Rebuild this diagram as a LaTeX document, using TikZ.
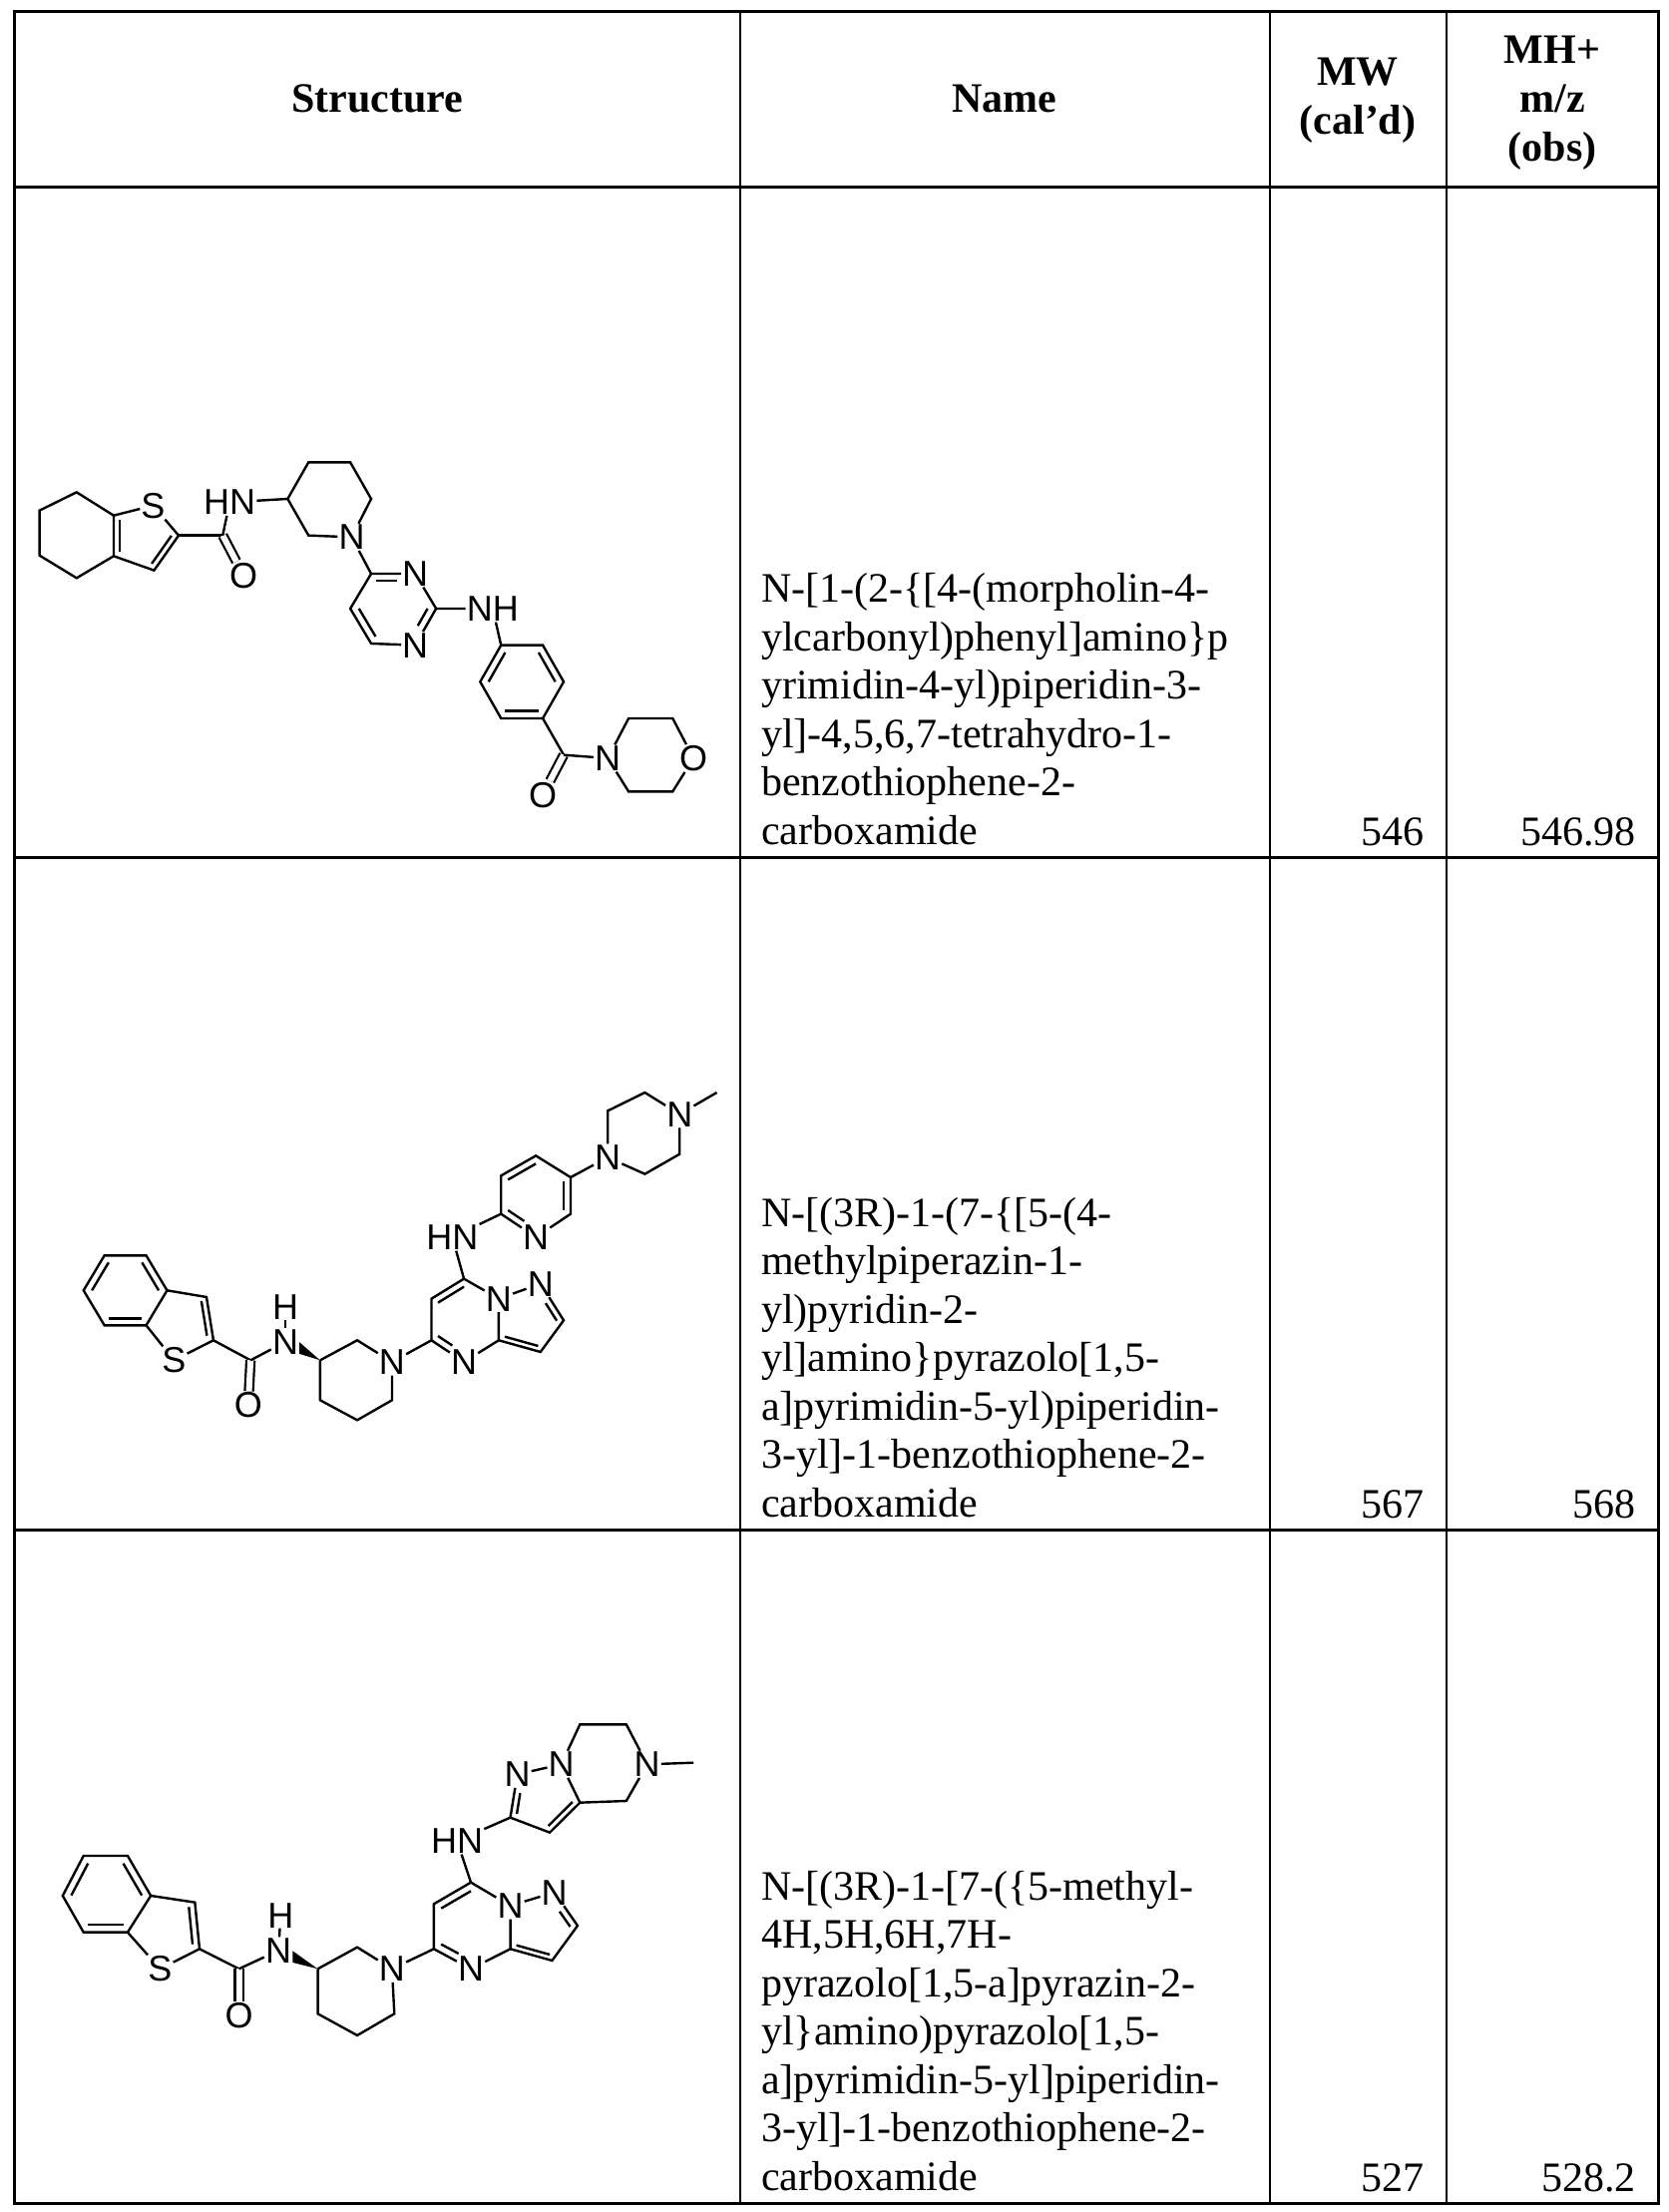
\documentclass[tikz,border=0pt]{standalone}
\usepackage{fontspec}
\setmainfont{Liberation Serif}
\newfontfamily\molf{Liberation Sans}
\usetikzlibrary{calc}
\tikzset{
  atom/.style={font=\molf\fontsize{36}{36}\selectfont, inner sep=1pt},
  bond/.style={line width=2.4pt},
  dbond/.style={double, double distance=6pt, line width=2.2pt},
  rule/.style={line width=3pt},
  vrule/.style={line width=1.6pt},
  nametext/.style={font=\fontsize{42}{48.5}\selectfont, align=left, anchor=south west, inner sep=0pt},
  numtext/.style={font=\fontsize{42}{48}\selectfont, anchor=base east, inner sep=0pt},
  headtext/.style={font=\bfseries\fontsize{42}{49}\selectfont, align=center, inner sep=0pt}
}
\newcommand\dbl[3]{\draw[bond] ($(#1)!0.2!(#3)$) -- ($(#2)!0.2!(#3)$);}
\newcommand\dbls[3]{\draw[bond,shorten >=14pt] ($(#1)!0.2!(#3)$) -- ($(#2)!0.2!(#3)$);}
\begin{document}
\begin{tikzpicture}[x=1pt,y=-1pt]
\useasboundingbox (0,0) rectangle (1673,2217);
% table
\draw[rule] (14,11) rectangle (1662,2208);
\draw[rule] (14,187) -- (1662,187);
\draw[rule] (14,859) -- (1662,859);
\draw[rule] (14,1533) -- (1662,1533);
\draw[vrule] (742,11) -- (742,2208);
\draw[vrule] (1273,11) -- (1273,2208);
\draw[vrule] (1450,11) -- (1450,2208);
% header
\node[headtext] (h1) at (378,99) {Structure};
\node[headtext] (h2) at (1007,99) {Name};
\node[headtext] (h3) at (1361,101) {MW\\(cal'd)};
\node[headtext] (h4) at (1556,103) {MH+\\m/z\\(obs)};
% names
\node[nametext] (n1) at (763,847) {N-[1-(2-\{[4-(morpholin-4-\\ylcarbonyl)phenyl]amino\}p\\yrimidin-4-yl)piperidin-3-\\yl]-4,5,6,7-tetrahydro-1-\\benzothiophene-2-\\carboxamide};
\node[nametext] (n2) at (763,1521) {N-[(3R)-1-(7-\{[5-(4-\\methylpiperazin-1-\\yl)pyridin-2-\\yl]amino\}pyrazolo[1,5-\\a]pyrimidin-5-yl)piperidin-\\3-yl]-1-benzothiophene-2-\\carboxamide};
\node[nametext] (n3) at (763,2196) {N-[(3R)-1-[7-(\{5-methyl-\\4H,5H,6H,7H-\\pyrazolo[1,5-a]pyrazin-2-\\yl\}amino)pyrazolo[1,5-\\a]pyrimidin-5-yl]piperidin-\\3-yl]-1-benzothiophene-2-\\carboxamide};
\node[numtext] (m1) at (1428,847) {546};
\node[numtext] (o1) at (1640,847) {546.98};
\node[numtext] (m2) at (1428,1521) {567};
\node[numtext] (o2) at (1640,1521) {568};
\node[numtext] (m3) at (1428,2196) {527};
\node[numtext] (o3) at (1640,2196) {528.2};

% ---------- structure 1 ----------
\begin{scope}[shift={(14pt,-440pt)},x=0.465pt,y=-0.3333pt]
\coordinate (a1) at (135,160); \coordinate (a2) at (55,215); \coordinate (a3) at (55,350);
\coordinate (a4) at (135,418); \coordinate (a5) at (215,352); \coordinate (a6) at (215,230);
\node[atom] (S) at (300,200) {S};
\coordinate (c2) at (355,290); \coordinate (c3) at (302,395); \coordinate (tc) at (277,294);
\coordinate (cc) at (450,290);
\node[atom] (O1) at (495,410) {O};
\node[atom] (HN) at (465,190) {HN};
\coordinate (p3) at (590,180); \coordinate (p4) at (635,70); \coordinate (p5) at (725,70);
\coordinate (p6) at (770,180); \coordinate (p2) at (635,290);
\node[atom] (NP) at (728,295) {N};
\coordinate (q4) at (770,405); \node[atom] (N3) at (865,405) {N};
\coordinate (q2) at (910,510); \node[atom] (N1) at (865,620) {N};
\coordinate (q6) at (770,615); \coordinate (q5) at (725,510); \coordinate (qc) at (818,510);
\node[atom] (NH) at (1032,510) {NH};
\coordinate (b1) at (1050,620); \coordinate (b2) at (1140,620); \coordinate (b3) at (1185,730);
\coordinate (b4) at (1140,840); \coordinate (b5) at (1050,840); \coordinate (b6) at (1005,730);
\coordinate (bc) at (1095,730);
\coordinate (k) at (1185,950); \node[atom] (O2) at (1140,1070) {O};
\node[atom] (NM) at (1280,960) {N};
\coordinate (r1) at (1325,840); \coordinate (r2) at (1420,840); \node[atom] (OM) at (1465,960) {O};
\coordinate (r3) at (1420,1060); \coordinate (r4) at (1325,1060);
\draw[bond] (a1)--(a2)--(a3)--(a4)--(a5)--(a6)--cycle;
\draw[bond] (a6)--(S)--(c2)--(c3)--(a5);
\dbl{a6}{a5}{tc} \dbl{c2}{c3}{tc}
\draw[bond] (c2)--(cc); \draw[dbond] (cc)--(O1); \draw[bond] (cc)--(HN); \draw[bond] (HN)--(p3);
\draw[bond] (p3)--(p4)--(p5)--(p6)--(NP)--(p2)--(p3);
\draw[bond] (NP)--(q4);
\draw[bond] (q4)--(N3)--(q2)--(N1)--(q6)--(q5)--(q4);
\dbls{q4}{N3}{qc} \dbls{q2}{N1}{qc} \dbl{q6}{q5}{qc}
\draw[bond] (q2)--(NH)--(b1);
\draw[bond] (b1)--(b2)--(b3)--(b4)--(b5)--(b6)--cycle;
\dbl{b2}{b3}{bc} \dbl{b4}{b5}{bc} \dbl{b6}{b1}{bc}
\draw[bond] (b4)--(k); \draw[dbond] (k)--(O2); \draw[bond] (k)--(NM);
\draw[bond] (NM)--(r1)--(r2)--(OM)--(r3)--(r4)--(NM);
\end{scope}

% ---------- structure 2 ----------
\begin{scope}[shift={(14pt,-1080pt)},x=0.465pt,y=-0.3333pt]
\coordinate (e1) at (195,535); \coordinate (e2) at (285,535); \coordinate (e3) at (330,640);
\coordinate (e4) at (285,745); \coordinate (e5) at (195,745); \coordinate (e6) at (150,640);
\coordinate (ec) at (240,640);
\coordinate (t3) at (415,660); \coordinate (t2) at (430,790); \node[atom] (S2) at (345,850) {S};
\coordinate (tc) at (360,720);
\coordinate (cc) at (510,850); \node[atom] (O) at (505,985) {O};
\node[atom] (NA) at (585,795) {N}; \node[atom,inner sep=0pt] (HA) at (585,690) {H};
\coordinate (w) at (660,850);
\coordinate (pp1) at (740,790); \node[atom] (NP) at (815,855) {N};
\coordinate (pp3) at (815,970); \coordinate (pp4) at (740,1030); \coordinate (pp5) at (660,970);
\coordinate (c5) at (900,790); \node[atom] (N4) at (970,855) {N}; \coordinate (c3a) at (1045,790);
\node[atom] (NB) at (1045,665) {N}; \coordinate (c7) at (970,605); \coordinate (c6) at (900,665);
\coordinate (pc) at (970,725);
\node[atom] (N2) at (1135,620) {N}; \coordinate (c2z) at (1185,730); \coordinate (c3z) at (1135,825);
\coordinate (zc) at (1110,735);
\node[atom] (HN) at (945,480) {HN};
\coordinate (y2) at (1050,410); \node[atom] (NY) at (1125,480) {N}; \coordinate (y6) at (1200,410);
\coordinate (y5) at (1200,300); \coordinate (y4) at (1125,235); \coordinate (y3) at (1050,295);
\coordinate (yc) at (1125,355);
\node[atom] (NZ) at (1280,240) {N}; \coordinate (z1) at (1280,100); \coordinate (z2) at (1360,45);
\node[atom] (NX) at (1435,110) {N}; \coordinate (z4) at (1435,230); \coordinate (z5) at (1360,290);
\coordinate (me) at (1515,45);
\draw[bond] (e1)--(e2)--(e3)--(e4)--(e5)--(e6)--cycle;
\dbl{e2}{e3}{ec} \dbl{e4}{e5}{ec} \dbl{e6}{e1}{ec}
\draw[bond] (e3)--(t3)--(t2)--(S2)--(e4);
\dbl{t3}{t2}{tc}
\draw[bond] (t2)--(cc); \draw[dbond] (cc)--(O); \draw[bond] (cc)--(NA); \draw[bond] (NA)--(HA);
\fill ($(NA.south east)+(0,-5)$) -- ($(NA.south east)+(0,-40)$) -- (w) -- cycle;
\draw[bond] (w)--(pp1)--(NP)--(pp3)--(pp4)--(pp5)--(w);
\draw[bond] (NP)--(c5);
\draw[bond] (c5)--(N4)--(c3a)--(NB)--(c7)--(c6)--(c5);
\dbls{c5}{N4}{pc} \dbl{c7}{c6}{pc}
\draw[bond] (NB)--(N2)--(c2z)--(c3z)--(c3a);
\dbls{c2z}{N2}{zc} \dbl{c3z}{c3a}{zc}
\draw[bond] (c7)--(HN)--(y2);
\draw[bond] (y2)--(NY)--(y6)--(y5)--(y4)--(y3)--(y2);
\dbls{y2}{NY}{yc} \dbl{y6}{y5}{yc} \dbl{y4}{y3}{yc}
\draw[bond] (y5)--(NZ)--(z1)--(z2)--(NX)--(z4)--(z5)--(NZ);
\draw[bond] (NX)--(me);
\end{scope}

% ---------- structure 3 ----------
\begin{scope}[shift={(14pt,-1700pt)},x=0.465pt,y=-0.3333pt]
\coordinate (e1) at (150,480); \coordinate (e2) at (245,480); \coordinate (e3) at (295,600);
\coordinate (e4) at (245,710); \coordinate (e5) at (150,710); \coordinate (e6) at (105,600);
\coordinate (ec) at (198,595);
\coordinate (t3) at (390,620); \coordinate (t2) at (400,760); \node[atom] (S2) at (315,820) {S};
\coordinate (tc) at (325,690);
\coordinate (cc) at (485,820); \node[atom] (O) at (485,960) {O};
\node[atom] (NA) at (570,765) {N}; \node[atom,inner sep=0pt] (HA) at (575,660) {H};
\coordinate (w) at (655,820);
\coordinate (pp1) at (740,755); \node[atom] (NP) at (815,820) {N};
\coordinate (pp3) at (820,955); \coordinate (pp4) at (740,1020); \coordinate (pp5) at (655,955);
\coordinate (c5) at (905,760); \node[atom] (N4) at (985,820) {N}; \coordinate (c3a) at (1070,760);
\node[atom] (NB) at (1070,630) {N}; \coordinate (c7) at (985,560); \coordinate (c6) at (905,625);
\coordinate (pc) at (985,690);
\node[atom] (N2) at (1165,590) {N}; \coordinate (c2z) at (1215,690); \coordinate (c3z) at (1160,795);
\coordinate (zc) at (1135,705);
\node[atom] (HN) at (955,435) {HN};
\coordinate (u2) at (1070,365); \node[atom] (NU) at (1085,235) {N}; \node[atom] (NV) at (1180,205) {N};
\coordinate (u3) at (1155,410); \coordinate (u3a) at (1220,320); \coordinate (uc) at (1140,310);
\coordinate (v1) at (1220,85); \coordinate (v2) at (1320,85); \node[atom] (NW) at (1365,205) {N};
\coordinate (v4) at (1320,315); \coordinate (me) at (1465,200);
\draw[bond] (e1)--(e2)--(e3)--(e4)--(e5)--(e6)--cycle;
\dbl{e2}{e3}{ec} \dbl{e4}{e5}{ec} \dbl{e6}{e1}{ec}
\draw[bond] (e3)--(t3)--(t2)--(S2)--(e4);
\dbl{t3}{t2}{tc}
\draw[bond] (t2)--(cc); \draw[dbond] (cc)--(O); \draw[bond] (cc)--(NA); \draw[bond] (NA)--(HA);
\fill ($(NA.south east)+(0,-5)$) -- ($(NA.south east)+(0,-40)$) -- (w) -- cycle;
\draw[bond] (w)--(pp1)--(NP)--(pp3)--(pp4)--(pp5)--(w);
\draw[bond] (NP)--(c5);
\draw[bond] (c5)--(N4)--(c3a)--(NB)--(c7)--(c6)--(c5);
\dbls{c5}{N4}{pc} \dbl{c7}{c6}{pc}
\draw[bond] (NB)--(N2)--(c2z)--(c3z)--(c3a);
\dbls{c2z}{N2}{zc} \dbl{c3z}{c3a}{zc}
\draw[bond] (c7)--(HN)--(u2);
\draw[bond] (u2)--(NU)--(NV)--(u3a)--(u3)--(u2);
\dbls{u2}{NU}{uc} \dbl{u3}{u3a}{uc}
\draw[bond] (NV)--(v1)--(v2)--(NW)--(v4)--(u3a);
\draw[bond] (NW)--(me);
\end{scope}
\end{tikzpicture}
\end{document}
